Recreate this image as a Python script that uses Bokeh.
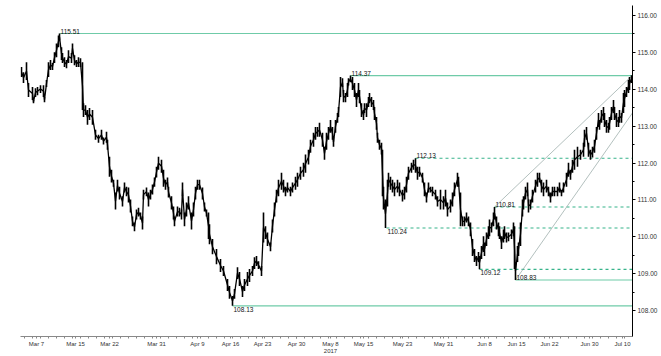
from bokeh.plotting import figure
from bokeh.models import FixedTicker, Label, Range1d, NumeralTickFormatter
from bokeh.embed import file_html
from bokeh.resources import INLINE

# bar number (about 3.6 trading hours per bar), high, low
bar = [1, 3, 6, 8, 12, 13, 15, 17, 20, 23,
       24, 26, 28, 30, 32, 34, 36, 38, 39, 41,
       42, 44, 46, 48, 51, 52, 54, 56, 58, 60,
       62, 63, 65, 67, 69, 72, 75, 78, 81, 83,
       86, 87, 89, 91, 93, 95, 97, 99, 102, 104,
       106, 108, 110, 112, 114, 116, 118, 120, 122, 123,
       126, 128, 130, 132, 134, 136, 138, 141, 143, 145,
       147, 148, 151, 153, 154, 157, 159, 161, 162, 164,
       166, 168, 171, 173, 175, 177, 179, 182, 184, 186,
       188, 189, 192, 196, 200, 203, 207, 209, 212, 214,
       217, 219, 222, 224, 227, 229, 232, 234, 236, 238,
       241, 243, 245, 247, 250, 252, 254, 256, 258, 261,
       263, 265, 267, 270, 272, 275, 277, 280, 283, 285,
       288, 290, 293, 295, 297, 299, 302, 304, 306, 308,
       310, 312, 313, 315, 317, 318, 320, 322, 323, 325,
       327, 328, 330, 332, 334, 336, 338, 339, 341, 343,
       344, 346, 348, 349, 351, 353, 354, 356, 357, 359,
       361, 362, 363, 365, 367, 368, 370, 372, 374, 377,
       379, 382, 384, 386, 388, 391, 393, 395, 397, 399,
       402, 404, 406, 408, 410, 412, 415, 417, 420, 423,
       425, 427, 430, 432, 434, 437, 438, 440, 442, 444,
       446, 448, 450, 452, 454, 456, 458, 459, 461, 463,
       464, 466, 468, 469, 471, 473, 474, 476, 478, 479,
       481, 483, 484, 486, 488, 491, 493, 494, 495, 497,
       498, 500, 502, 503, 505, 507, 508, 510, 512, 515,
       517, 519, 521, 523, 526, 528, 530, 532, 534, 537,
       539, 541, 543, 546, 548, 550, 552, 554, 557, 560,
       563, 564, 566, 568, 570, 572, 574, 576, 578, 579,
       581, 583, 584, 586, 588, 589, 591, 593, 594, 596,
       598, 599, 601, 603, 604, 606, 608, 609, 611]

hi = [114.60, 114.46, 114.73, 114.17, 114.06, 113.71, 114.03, 114.06, 114.11, 114.11,
      113.79, 114.25, 114.73, 114.79, 114.71, 115.00, 115.24, 115.46, 115.51, 115.14,
      114.98, 114.87, 114.79, 115.06, 114.98, 115.24, 114.92, 114.79, 114.87, 114.84,
      114.73, 113.62, 113.57, 113.44, 113.49, 113.44, 112.90, 112.77, 112.90, 112.69,
      112.85, 112.63, 112.17, 111.82, 111.55, 111.20, 111.55, 111.36, 111.10, 111.47,
      111.36, 111.34, 111.01, 110.55, 110.39, 110.74, 110.79, 110.66, 110.55, 111.28,
      111.34, 111.20, 111.28, 111.42, 111.61, 111.90, 112.17, 112.09, 111.82, 111.55,
      111.61, 111.36, 111.10, 110.82, 110.55, 110.82, 110.79, 110.74, 111.47, 110.66,
      110.93, 111.10, 110.66, 110.93, 111.36, 111.55, 111.55, 111.34, 110.93, 110.74,
      110.66, 110.34, 109.94, 109.67, 109.40, 109.21, 108.86, 108.67, 108.40, 108.59,
      109.18, 109.05, 108.67, 108.86, 109.05, 109.13, 109.21, 109.45, 109.48, 109.34,
      109.21, 110.66, 110.29, 110.12, 109.85, 110.47, 110.93, 111.28, 111.55, 111.74,
      111.55, 111.36, 111.47, 111.36, 111.47, 111.63, 111.74, 111.90, 112.01, 112.23,
      112.36, 112.63, 112.82, 112.98, 112.98, 113.09, 112.82, 112.44, 112.82, 112.98,
      113.17, 112.98, 112.71, 113.17, 113.36, 113.52, 114.33, 114.30, 113.98, 113.90,
      114.17, 114.30, 114.37, 114.33, 114.17, 113.90, 114.17, 113.98, 113.62, 113.44,
      113.62, 113.62, 113.79, 113.90, 113.79, 113.71, 113.52, 113.25, 112.82, 112.63,
      112.55, 112.36, 111.36, 111.01, 111.55, 111.74, 111.63, 111.55, 111.47, 111.55,
      111.47, 111.28, 111.36, 111.63, 111.90, 112.01, 112.09, 112.13, 111.90, 111.90,
      111.74, 111.47, 111.20, 111.47, 111.36, 111.36, 111.28, 111.10, 111.28, 111.10,
      111.28, 110.93, 111.01, 111.20, 111.47, 111.74, 111.63, 111.20, 110.55, 110.55,
      110.66, 110.55, 110.39, 109.94, 109.67, 109.48, 109.59, 109.48, 109.75, 110.02,
      109.85, 110.12, 110.29, 110.47, 110.39, 110.66, 110.81, 110.55, 110.39, 110.29,
      110.02, 110.20, 110.29, 110.12, 110.12, 110.20, 110.39, 110.29, 109.32, 109.75,
      109.85, 110.39, 111.01, 111.10, 111.36, 111.47, 111.01, 111.01, 111.28, 111.55,
      111.74, 111.74, 111.55, 111.47, 111.55, 111.36, 111.20, 111.36, 111.36, 111.36,
      111.47, 111.28, 111.47, 111.74, 112.01, 111.82, 112.09, 112.36, 112.44, 112.36,
      112.55, 112.90, 112.98, 112.55, 112.36, 112.44, 112.63, 112.98, 113.36, 113.17,
      113.44, 113.52, 113.36, 113.17, 113.09, 113.25, 113.52, 113.71, 113.52, 113.36,
      113.25, 113.44, 113.36, 113.90, 113.98, 114.06, 114.25, 114.33, 114.38]

lo = [114.33, 114.17, 114.25, 113.79, 113.71, 113.62, 113.79, 113.84, 113.90, 113.79,
      113.65, 114.06, 114.33, 114.52, 114.52, 114.71, 114.87, 115.14, 115.33, 114.79,
      114.71, 114.60, 114.57, 114.71, 114.71, 114.98, 114.65, 114.60, 114.60, 114.60,
      113.44, 113.25, 113.30, 113.04, 113.17, 113.04, 112.63, 112.55, 112.63, 112.50,
      112.55, 112.36, 111.63, 111.47, 111.36, 110.74, 111.23, 111.01, 110.82, 111.20,
      111.10, 110.93, 110.66, 110.29, 110.15, 110.47, 110.55, 110.47, 110.20, 111.01,
      111.10, 110.82, 111.01, 111.15, 111.36, 111.61, 111.82, 111.74, 111.36, 111.28,
      111.36, 111.07, 110.74, 110.47, 110.29, 110.55, 110.55, 110.47, 111.10, 110.29,
      110.55, 110.74, 110.20, 110.55, 111.01, 111.28, 111.28, 111.01, 110.69, 110.55,
      109.94, 109.80, 109.53, 109.26, 109.05, 108.94, 108.53, 108.32, 108.13, 108.32,
      108.86, 108.67, 108.37, 108.53, 108.67, 108.78, 108.94, 109.13, 109.21, 109.13,
      108.94, 109.85, 109.94, 109.75, 109.61, 110.12, 110.55, 110.93, 111.10, 111.28,
      111.20, 111.10, 111.20, 111.10, 111.20, 111.28, 111.36, 111.55, 111.63, 111.74,
      111.96, 112.28, 112.44, 112.63, 112.71, 112.71, 112.44, 112.09, 112.36, 112.63,
      112.82, 112.63, 112.44, 112.82, 113.09, 113.25, 113.79, 114.06, 113.65, 113.65,
      113.79, 114.10, 114.19, 113.98, 113.79, 113.52, 113.79, 113.62, 113.25, 113.17,
      113.36, 113.25, 113.52, 113.62, 113.52, 113.44, 113.17, 112.90, 112.55, 112.36,
      112.23, 111.10, 110.74, 110.24, 110.82, 111.36, 111.28, 111.20, 111.10, 111.20,
      111.10, 110.96, 111.01, 111.20, 111.55, 111.74, 111.82, 111.74, 111.55, 111.63,
      111.47, 111.10, 110.93, 111.20, 111.20, 111.10, 111.01, 110.82, 110.74, 110.74,
      110.82, 110.55, 110.66, 110.82, 111.10, 111.36, 111.36, 110.29, 110.29, 110.29,
      110.39, 110.29, 110.02, 109.48, 109.32, 109.21, 109.32, 109.12, 109.40, 109.59,
      109.48, 109.75, 109.94, 110.02, 110.12, 110.29, 110.47, 110.20, 110.02, 109.94,
      109.67, 109.85, 109.94, 109.85, 109.88, 109.94, 110.02, 109.13, 108.83, 109.32,
      109.48, 109.75, 110.55, 110.74, 111.01, 111.10, 110.66, 110.74, 110.93, 111.20,
      111.36, 111.47, 111.20, 111.10, 111.20, 111.10, 110.93, 111.10, 111.10, 111.10,
      111.20, 111.10, 111.20, 111.36, 111.63, 111.55, 111.74, 111.82, 111.90, 112.09,
      112.17, 112.44, 112.63, 112.17, 112.09, 112.15, 112.28, 112.63, 112.98, 112.90,
      113.09, 113.17, 112.98, 112.82, 112.82, 112.90, 113.17, 113.36, 113.17, 112.98,
      112.98, 113.09, 113.09, 113.36, 113.52, 113.79, 113.90, 113.98, 114.17]

last_price = 114.25
x_end = 612

tick_bars = [16, 55, 89, 136, 177, 210, 242, 276, 310, 343, 382, 423, 464, 496, 529, 569, 602]
tick_labels = ["Mar 7", "Mar 15", "Mar 22", "Mar 31", "Apr 9", "Apr 16", "Apr 23", "Apr 30",
               "May 8\n2017", "May 15", "May 23", "May 31", "Jun 8", "Jun 15", "Jun 22",
               "Jun 30", "Jul 10"]
y_ticks = [108, 109, 110, 111, 112, 113, 114, 115, 116]

level_price = [115.51, 114.37, 112.13, 110.81, 110.24, 109.12, 108.83, 108.13]
level_start = [39, 330, 395, 474, 366, 459, 495, 212]
level_dashed = [False, False, True, True, True, True, False, False]
level_above = [True, True, True, True, False, False, True, False]

chan_up_x = [474, 612]
chan_up_y = [110.81, 114.38]
chan_lo_x = [495, 612]
chan_lo_y = [108.83, 113.36]

FONT = "Liberation Sans"

p = figure(width=661, height=356, output_backend="svg", toolbar_location=None,
           x_range=Range1d(0, x_end), y_range=Range1d(107.30, 116.27),
           y_axis_location="right", min_border_left=20, min_border_top=5,
           min_border_right=29, min_border_bottom=18)
p.outline_line_color = None
p.grid.visible = False
p.background_fill_color = "white"
p.border_fill_color = "white"

# level lines
solid_c = "#6fcba8"
dash_c = "#37b38a"
for price, start, dashed, above in zip(level_price, level_start, level_dashed, level_above):
    p.segment(x0=[start], y0=[price], x1=[x_end], y1=[price],
              line_color=dash_c if dashed else solid_c, line_width=1.1,
              line_dash="3 3" if dashed else "solid")
    p.add_layout(Label(x=start, y=price, text=f"{price:.2f}", text_font=FONT,
                       text_font_size="6.5px", text_color="#111111",
                       text_baseline="bottom" if above else "top",
                       y_offset=0 if above else -1, x_offset=1))

# channel
p.line(chan_up_x, chan_up_y, line_color="#9fb0ad", line_width=0.8)
p.line(chan_lo_x, chan_lo_y, line_color="#9fb0ad", line_width=0.8)

# price bars
mid = [(h + l) / 2 for h, l in zip(hi, lo)]
p.segment(x0=bar, y0=lo, x1=bar, y1=hi, line_color="black", line_width=1.6)
p.line(bar, mid, line_color="black", line_width=1.3)

# last price tag
p.add_layout(Label(x=x_end, y=last_price, text=f"{last_price:.2f}", text_font=FONT,
                   text_font_size="6.5px", text_color="white", text_baseline="middle",
                   background_fill_color="black", x_offset=2, padding=1))

# axes
xa = p.xaxis[0]
xa.ticker = FixedTicker(ticks=tick_bars, minor_ticks=list(range(4, x_end, 8)))
xa.major_label_overrides = {b: t for b, t in zip(tick_bars, tick_labels)}
xa.major_label_text_font = FONT
xa.major_label_text_font_size = "6px"
xa.major_label_text_color = "#333333"
xa.axis_line_color = "#888888"
xa.major_tick_line_color = "#888888"
xa.minor_tick_line_color = "#888888"
xa.major_tick_in = 0
xa.major_tick_out = 2
xa.minor_tick_in = 0
xa.minor_tick_out = 2
xa.major_label_standoff = 2

ya = p.yaxis[0]
ya.ticker = FixedTicker(ticks=y_ticks, minor_ticks=[v + 0.5 for v in y_ticks])
ya.formatter = NumeralTickFormatter(format="0.00")
ya.major_label_text_font = FONT
ya.major_label_text_font_size = "6.5px"
ya.major_label_text_color = "#333333"
ya.axis_line_color = "black"
ya.major_tick_in = 0
ya.major_tick_out = 3
ya.minor_tick_in = 0
ya.minor_tick_out = 2
ya.major_label_standoff = 2

open("out.html", "w").write(file_html(p, INLINE))
